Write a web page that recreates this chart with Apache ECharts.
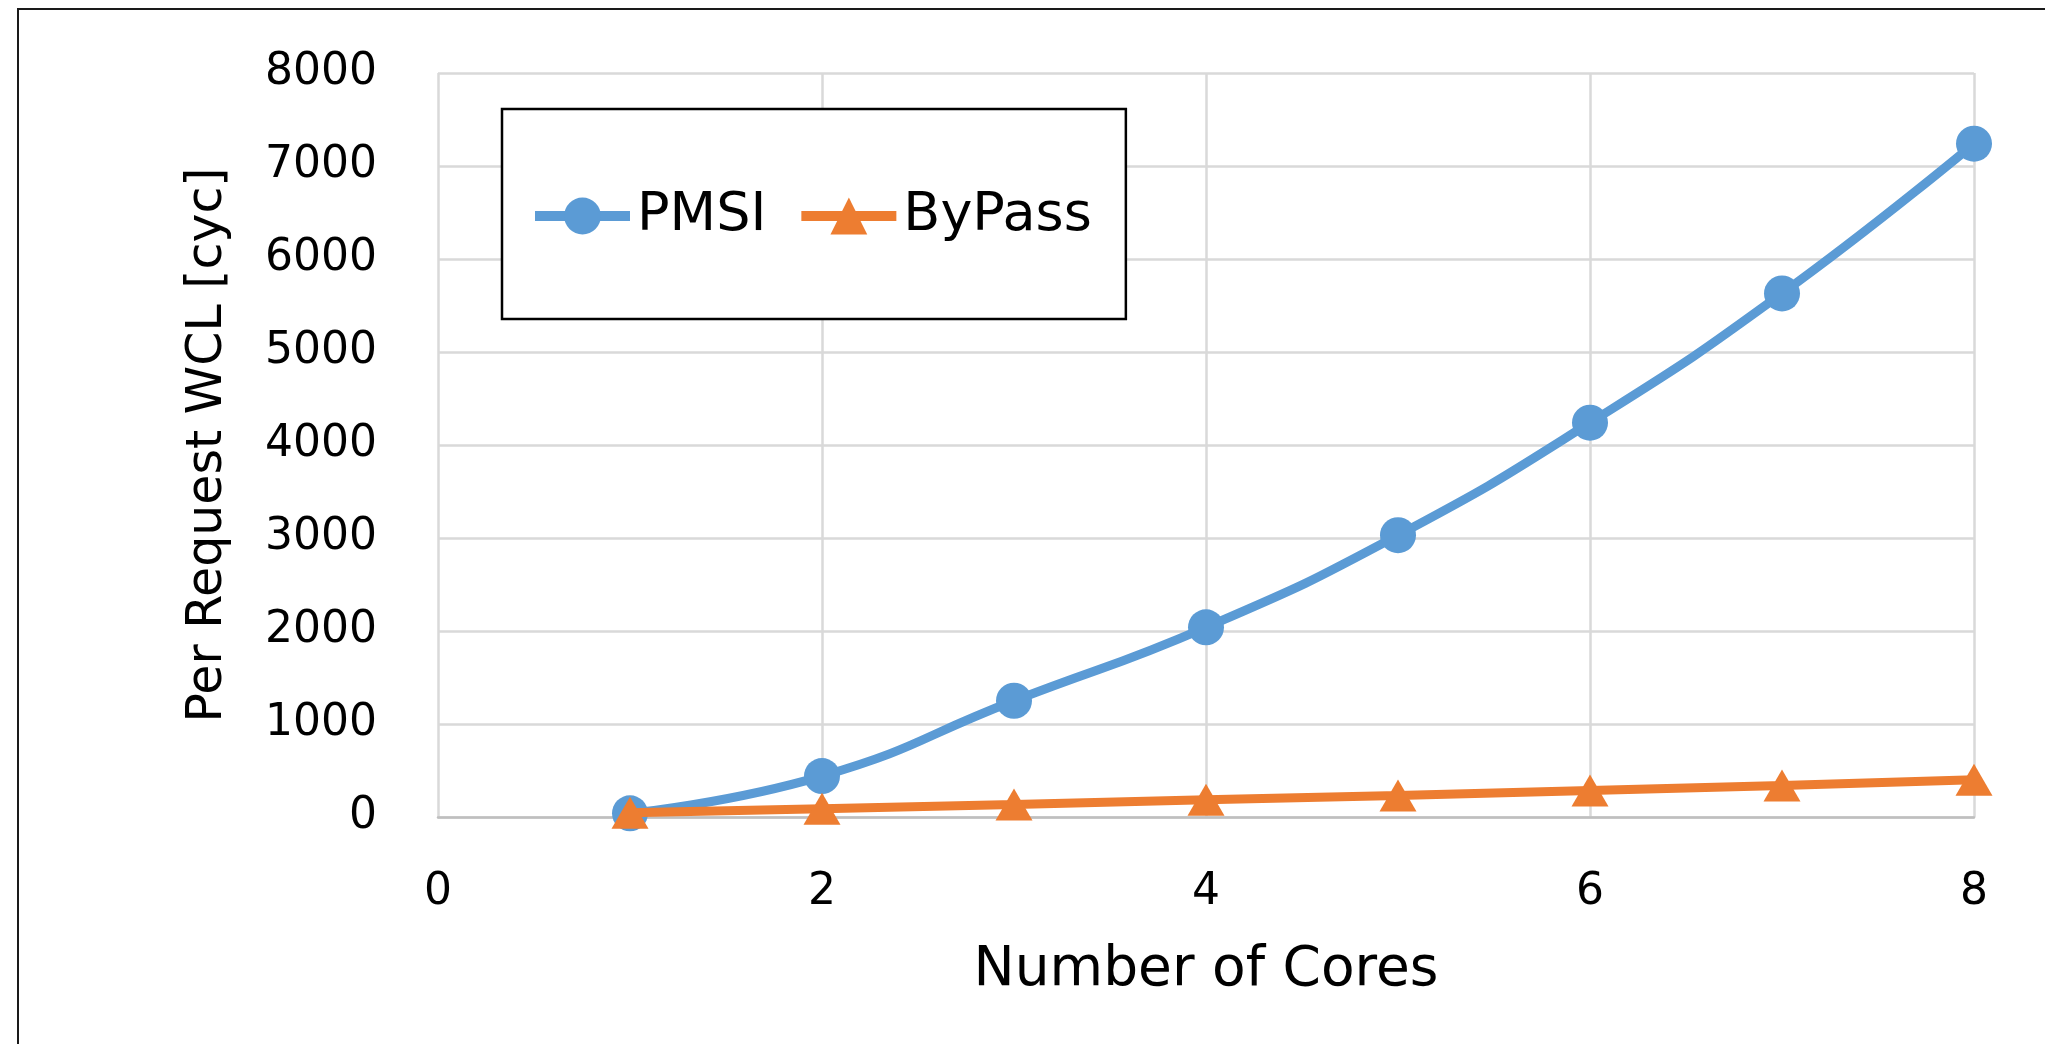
<!DOCTYPE html>
<html>
<head>
<meta charset="utf-8">
<script src="https://cdn.jsdelivr.net/npm/echarts@6/dist/echarts.min.js"></script>
<style>
  html, body { margin: 0; padding: 0; background: #ffffff; }
  #chart { width: 2045px; height: 1044px; }
</style>
</head>
<body>
<div id="chart"></div>
<script>
// Worst-case latency per request versus number of cores
const cores = [1, 2, 3, 4, 5, 6, 7, 8];
const pmsi = [40, 440, 1250, 2040, 3030, 4240, 5630, 7240];
const bypass = [45, 90, 135, 185, 230, 285, 340, 400];
const seriesNames = ['PMSI', 'ByPass'];
const xTicks = { min: 0, max: 8, interval: 2 };
const yTicks = { min: 0, max: 8000, interval: 1000 };

const FONT = 'DejaVu Sans';
const BLUE = '#5B9BD5';
const ORANGE = '#ED7D31';

const pairs = (ys) => cores.map((c, i) => [c, ys[i]]);

const chart = echarts.init(document.getElementById('chart'), null, { renderer: 'canvas' });

chart.setOption({
  backgroundColor: '#ffffff',
  animation: false,
  graphic: [{
    type: 'rect',
    shape: { x: 18, y: 9, width: 2200, height: 1200 },
    style: { fill: 'none', stroke: '#1a1a1a', lineWidth: 2 },
    z: 100
  }],
  grid: { left: 438, right: 2045 - 1974, top: 73, bottom: 1044 - 817, containLabel: false },
  legend: {
    left: 502, top: 109,
    orient: 'horizontal',
    padding: [80, 34, 76, 28],
    borderColor: '#000000', borderWidth: 2.5,
    backgroundColor: '#ffffff',
    itemWidth: 95, itemHeight: 46, itemGap: 30,
    lineStyle: { width: 10 },
    textStyle: { fontFamily: FONT, fontSize: 54, color: '#000000', lineHeight: 54, padding: [0, 0, 0, 2] },
    data: seriesNames
  },
  xAxis: {
    type: 'value',
    min: xTicks.min, max: xTicks.max, interval: xTicks.interval,
    name: 'Number of Cores', nameLocation: 'middle', nameGap: 126,
    nameTextStyle: { fontFamily: FONT, fontSize: 55, color: '#000000' },
    axisLine: { show: true, lineStyle: { color: '#bfbfbf', width: 2.5 } },
    axisTick: { show: false },
    axisLabel: { fontFamily: FONT, fontSize: 44, color: '#000000', margin: 54 },
    splitLine: { show: true, lineStyle: { color: '#d9d9d9', width: 2.5 } }
  },
  yAxis: {
    type: 'value',
    min: yTicks.min, max: yTicks.max, interval: yTicks.interval,
    name: 'Per Request WCL [cyc]', nameLocation: 'middle', nameGap: 205, nameRotate: 90,
    nameTextStyle: { fontFamily: FONT, fontSize: 49, color: '#000000' },
    axisLine: { show: false },
    axisTick: { show: false },
    axisLabel: {
      fontFamily: FONT, fontSize: 44, color: '#000000', margin: 61,
      formatter: (v) => String(v)
    },
    splitLine: { show: true, lineStyle: { color: '#d9d9d9', width: 2.5 } }
  },
  series: [
    {
      name: seriesNames[0], type: 'line', data: pairs(pmsi),
      smooth: 0.5,
      symbol: 'circle', symbolSize: 36,
      lineStyle: { color: BLUE, width: 9 },
      itemStyle: { color: BLUE },
      z: 3
    },
    {
      name: seriesNames[1], type: 'line', data: pairs(bypass),
      symbol: 'triangle', symbolSize: [37, 32],
      lineStyle: { color: ORANGE, width: 9 },
      itemStyle: { color: ORANGE },
      z: 4
    }
  ]
});
</script>
</body>
</html>
